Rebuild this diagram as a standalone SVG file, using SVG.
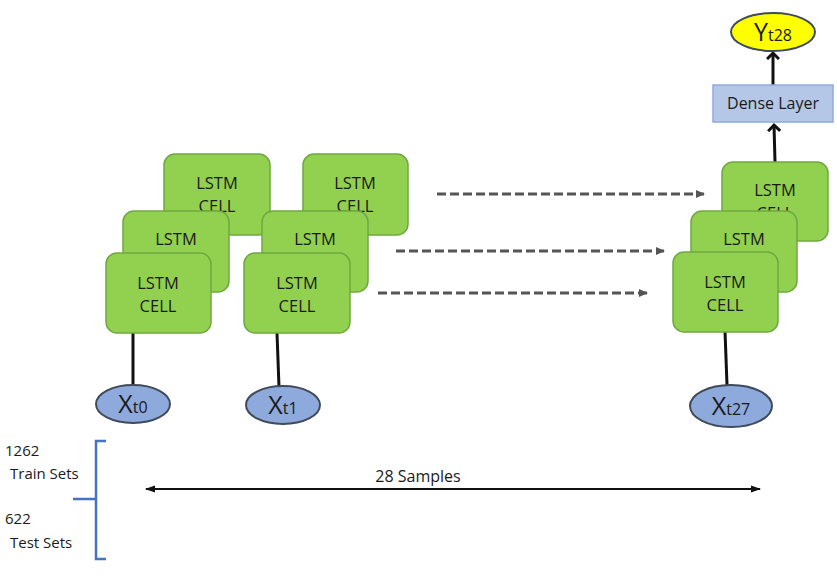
<svg xmlns="http://www.w3.org/2000/svg" width="837" height="576" viewBox="0 0 837 576">
<style>
.cell{fill:#92D050;stroke:#6FA83F;stroke-width:1.5}
.t{font-family:"Open Sans","Noto Sans",sans-serif;font-size:16.5px;fill:#1a1a1a;text-anchor:middle}
.tl{font-family:"Open Sans","Noto Sans",sans-serif;font-size:15px;fill:#1a1a1a}
.xin{fill:#8EA9DB;stroke:#3F4A5A;stroke-width:2}
.big{font-family:"Open Sans","Noto Sans",sans-serif;font-size:25px;fill:#1a1a1a}
.sub{font-family:"Open Sans","Noto Sans",sans-serif;font-size:16px;fill:#1a1a1a}
.dash{stroke:#555;stroke-width:3;stroke-dasharray:9 4;fill:none}
.solid{stroke:#111;stroke-width:3;fill:none}
.br{stroke:#4472C4;stroke-width:2.5;fill:none}
</style>
<defs>
<marker id="dh" markerWidth="10" markerHeight="10" refX="8" refY="5" orient="auto" markerUnits="userSpaceOnUse">
<path d="M0,1 L9,5 L0,9 Z" fill="#555"/>
</marker>
<marker id="open" markerWidth="14" markerHeight="14" refX="7" refY="7" orient="auto" markerUnits="userSpaceOnUse">
<path d="M1,1 L7,7 L1,13" fill="none" stroke="#111" stroke-width="3"/>
</marker>
<marker id="ah" markerWidth="10" markerHeight="10" refX="9" refY="5" orient="auto" markerUnits="userSpaceOnUse">
<path d="M0,1.5 L10,5 L0,8.5 Z" fill="#111"/>
</marker>
<marker id="ahs" markerWidth="10" markerHeight="10" refX="1" refY="5" orient="auto" markerUnits="userSpaceOnUse">
<path d="M10,1.5 L0,5 L10,8.5 Z" fill="#111"/>
</marker>
</defs>

<g id="connectors">
<line class="dash" x1="437" y1="194" x2="704" y2="194" marker-end="url(#dh)"/>
<line class="dash" x1="396" y1="251" x2="664" y2="251" marker-end="url(#dh)"/>
<line class="dash" x1="378" y1="293" x2="647" y2="293" marker-end="url(#dh)"/>
<line class="solid" x1="133" y1="333" x2="133" y2="386"/>
<line class="solid" x1="277" y1="333" x2="279" y2="387"/>
<line class="solid" x1="725" y1="331" x2="727" y2="385"/>
<line class="solid" x1="775" y1="162" x2="774" y2="125" marker-end="url(#open)"/>
<line class="solid" x1="773" y1="85" x2="773" y2="53" marker-end="url(#open)"/>
<line stroke="#111" stroke-width="2" x1="146" y1="489" x2="760" y2="489" marker-start="url(#ahs)" marker-end="url(#ah)"/>
</g>

<g id="stack0">
<rect class="cell" x="164" y="154" width="106" height="81" rx="11"/>
<text class="t" x="217" y="189">LSTM</text>
<text class="t" x="217" y="212">CELL</text>
<rect class="cell" x="123" y="211" width="106" height="81" rx="11"/>
<text class="t" x="176" y="245">LSTM</text>
<text class="t" x="176" y="268">CELL</text>
<rect class="cell" x="106" y="253" width="105" height="80" rx="11"/>
<text class="t" x="158" y="289">LSTM</text>
<text class="t" x="158" y="312">CELL</text>
</g>

<g id="stack1">
<rect class="cell" x="303" y="154" width="105" height="81" rx="11"/>
<text class="t" x="355" y="189">LSTM</text>
<text class="t" x="355" y="212">CELL</text>
<rect class="cell" x="262" y="211" width="106" height="81" rx="11"/>
<text class="t" x="315" y="245">LSTM</text>
<text class="t" x="315" y="268">CELL</text>
<rect class="cell" x="244" y="253" width="106" height="80" rx="11"/>
<text class="t" x="297" y="289">LSTM</text>
<text class="t" x="297" y="312">CELL</text>
</g>

<g id="stack27">
<rect class="cell" x="722" y="162" width="106" height="79" rx="11"/>
<text class="t" x="775" y="196">LSTM</text>
<text class="t" x="775" y="219">CELL</text>
<rect class="cell" x="691" y="211" width="106" height="81" rx="11"/>
<text class="t" x="744" y="245">LSTM</text>
<text class="t" x="744" y="268">CELL</text>
<rect class="cell" x="673" y="252" width="105" height="80" rx="11"/>
<text class="t" x="725" y="288">LSTM</text>
<text class="t" x="725" y="311">CELL</text>
</g>

<g id="dense">
<rect x="713" y="85" width="120" height="37" fill="#B4C7E7" stroke="#8FAADC" stroke-width="1.5"/>
<text class="t" x="773" y="109" style="font-size:16px">Dense Layer</text>
</g>

<g id="y28">
<ellipse cx="773" cy="32" rx="42" ry="19" fill="#FFFF00" stroke="#3F4A5A" stroke-width="2"/>
<text x="773" y="41" text-anchor="middle"><tspan class="big">Y</tspan><tspan class="sub">t28</tspan></text>
</g>

<g id="xt0">
<ellipse class="xin" cx="133" cy="404" rx="37" ry="19"/>
<text x="133" y="413" text-anchor="middle"><tspan class="big">X</tspan><tspan class="sub">t0</tspan></text>
</g>
<g id="xt1">
<ellipse class="xin" cx="283" cy="405" rx="37" ry="19"/>
<text x="283" y="414" text-anchor="middle"><tspan class="big">X</tspan><tspan class="sub">t1</tspan></text>
</g>
<g id="xt27">
<ellipse class="xin" cx="731" cy="406" rx="41" ry="21"/>
<text x="731" y="415" text-anchor="middle"><tspan class="big">X</tspan><tspan class="sub">t27</tspan></text>
</g>

<g id="sets">
<path class="br" d="M106,441 H96 V559 H106 M73,499 H96"/>
<text class="tl" x="5" y="456">1262</text>
<text class="tl" x="10" y="479">Train Sets</text>
<text class="tl" x="5" y="524">622</text>
<text class="tl" x="10" y="548">Test Sets</text>
</g>

<g id="samples">
<text class="t" x="418" y="482" style="font-size:16px">28 Samples</text>
</g>
</svg>
